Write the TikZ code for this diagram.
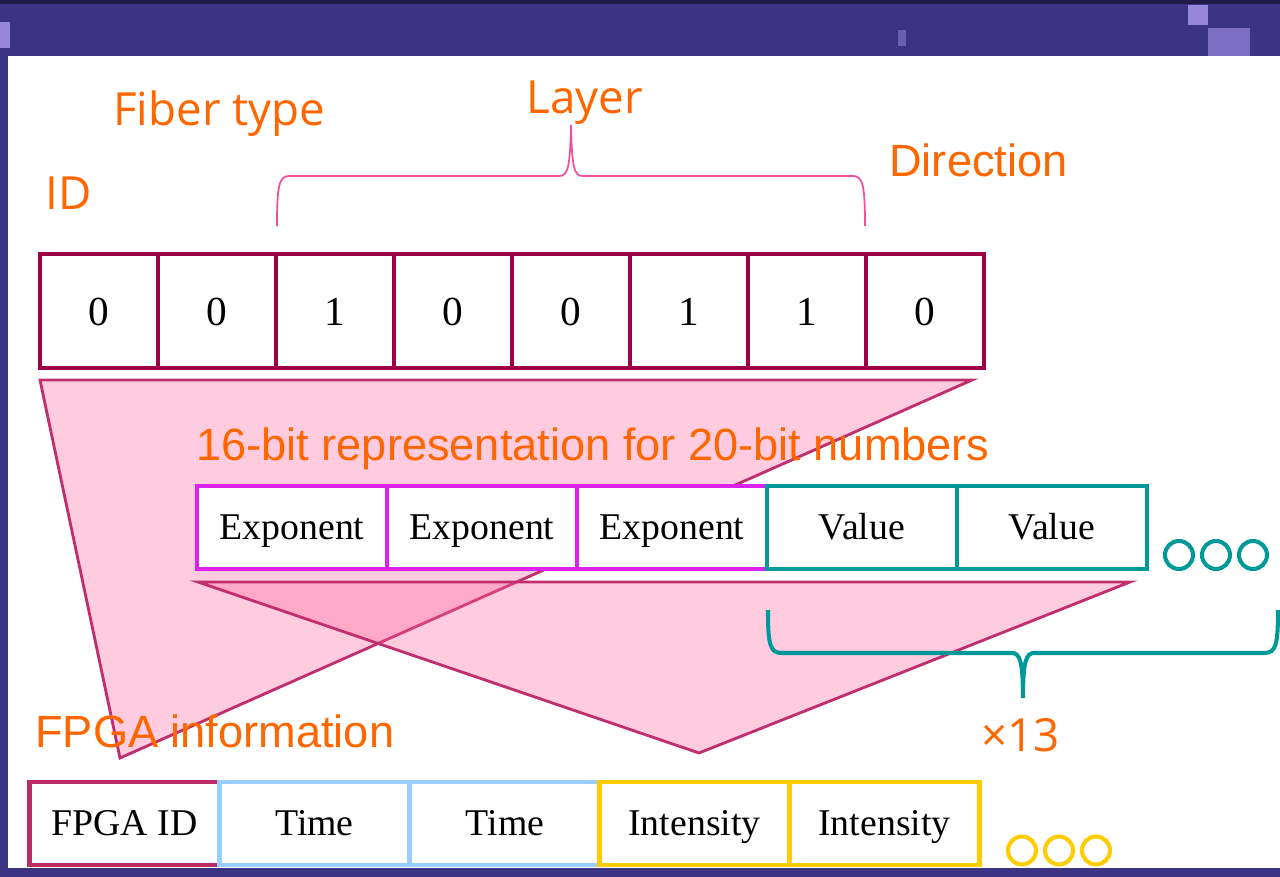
\documentclass[tikz,border=0pt]{standalone}
\usepackage{fontspec}
\setmainfont{Liberation Serif}
\newfontfamily\tagfont{Open Sans}
\newfontfamily\capfont{Liberation Sans}
\usetikzlibrary{positioning}

\definecolor{bgpurple}{RGB}{61,51,133}
\definecolor{bgdark}{RGB}{33,27,72}
\definecolor{starlight}{RGB}{150,135,220}
\definecolor{bitred}{RGB}{158,0,70}
\definecolor{funnelline}{RGB}{192,46,110}
\definecolor{funnelfill}{RGB}{255,98,155}
\definecolor{expmag}{RGB}{221,34,238}
\definecolor{valteal}{RGB}{0,153,153}
\definecolor{timeblue}{RGB}{153,204,255}
\definecolor{intgold}{RGB}{255,204,0}
\definecolor{fpgared}{RGB}{190,42,101}
\definecolor{tagorange}{RGB}{255,102,0}
\definecolor{bracepink}{RGB}{240,80,155}

\begin{document}
\begin{tikzpicture}[x=0.2mm, y=-0.2mm,
  bitcell/.style={draw=bitred, line width=2.3pt, fill=white,
    minimum width=23.6mm, minimum height=22.8mm, inner sep=0pt,
    text height=16pt, text depth=0pt,
    font=\fontsize{23.5}{26}\selectfont},
  wordcell/.style={line width=2.3pt, fill=white, minimum width=38mm,
    minimum height=16.6mm, inner sep=0pt, text height=14.2pt, text depth=0pt,
    font=\fontsize{21.5}{24}\selectfont},
  tag/.style={text=tagorange, inner sep=0pt, anchor=base west,
    font=\tagfont\fontsize{26}{30}\selectfont},
  headline/.style={text=tagorange, inner sep=0pt, anchor=base west,
    font=\capfont\fontsize{25.7}{30}\selectfont},
  funnel/.style={draw=funnelline, line width=1.6pt, fill=funnelfill,
    fill opacity=0.33},
  dotring/.style={circle, line width=2.3pt, minimum size=5.6mm, inner sep=0pt}
]

% slide background
\fill[bgpurple] (0,0) rectangle (1280,877);
\fill[bgdark] (0,0) rectangle (1280,4);
\fill[starlight] (0,22) rectangle (10,48);
\fill[starlight] (1188,5) rectangle (1208,25);
\fill[starlight, opacity=0.7] (1208,28) rectangle (1250,56);
\fill[starlight, opacity=0.5] (898,30) rectangle (906,46);
\fill[white] (8,56) rectangle (1280,868);

% funnels
\draw[funnel] (40,380) -- (972,380) -- (120,758) -- cycle;
\draw[funnel] (198,582) -- (1130,582) -- (699,753) -- cycle;

% ID bits
\node[bitcell] (b1) at (99,311) {0};
\node[bitcell] (b2) at (217,311) {0};
\node[bitcell] (b3) at (335,311) {1};
\node[bitcell] (b4) at (453,311) {0};
\node[bitcell] (b5) at (571,311) {0};
\node[bitcell] (b6) at (689,311) {1};
\node[bitcell] (b7) at (807,311) {1};
\node[bitcell] (b8) at (925,311) {0};

% 16-bit words
\node[wordcell, draw=expmag] (e1) at (292,527.5) {Exponent};
\node[wordcell, draw=expmag] (e2) at (482,527.5) {Exponent};
\node[wordcell, draw=expmag] (e3) at (672,527.5) {Exponent};
\node[wordcell, draw=valteal] (v1) at (862,527.5) {Value};
\node[wordcell, draw=valteal] (v2) at (1052,527.5) {Value};

\node[dotring, draw=valteal] (vd1) at (1179,555) {};
\node[dotring, draw=valteal] (vd2) at (1216,555) {};
\node[dotring, draw=valteal] (vd3) at (1253,555) {};

% FPGA packet
\node[wordcell, draw=fpgared] (fid) at (124.5,823.5) {FPGA ID};
\node[wordcell, draw=timeblue] (t1) at (314.5,823.5) {Time};
\node[wordcell, draw=timeblue] (t2) at (505,823.5) {Time};
\node[wordcell, draw=intgold] (i1) at (694.5,823.5) {Intensity};
\node[wordcell, draw=intgold] (i2) at (884.5,823.5) {Intensity};

\node[dotring, draw=intgold] (id1) at (1022,850.5) {};
\node[dotring, draw=intgold] (id2) at (1059,850.5) {};
\node[dotring, draw=intgold] (id3) at (1096,850.5) {};

% labels
\node[tag] (fiber) at (113,125) {Fiber type};
\node[tag] (layer) at (526,113) {Layer};
\node[tag] (idtag) at (45,209) {ID};
\node[headline] (dir) at (889,176) {Direction};
\node[tag] (times) at (981,752) {×13};
\node[headline] (repr) at (196,460) {16-bit representation for 20-bit numbers};
\node[headline] (fpgainfo) at (35,748) {FPGA information};

% braces
\draw[bracepink, line width=1pt] (277,226) .. controls (277,186) and (279,176) .. (289,176)
  -- (559,176) .. controls (568,176) and (570,168) .. (571,125)
  .. controls (572,168) and (574,176) .. (583,176)
  -- (853,176) .. controls (863,176) and (865,186) .. (865,226);
\draw[valteal, line width=2.3pt] (768,610) .. controls (768,645) and (770,653) .. (782,653)
  -- (1012,653) .. controls (1020,653) and (1023,662) .. (1023,698)
  .. controls (1023,662) and (1026,653) .. (1034,653)
  -- (1264,653) .. controls (1276,653) and (1278,645) .. (1278,610);

\end{tikzpicture}
\end{document}
